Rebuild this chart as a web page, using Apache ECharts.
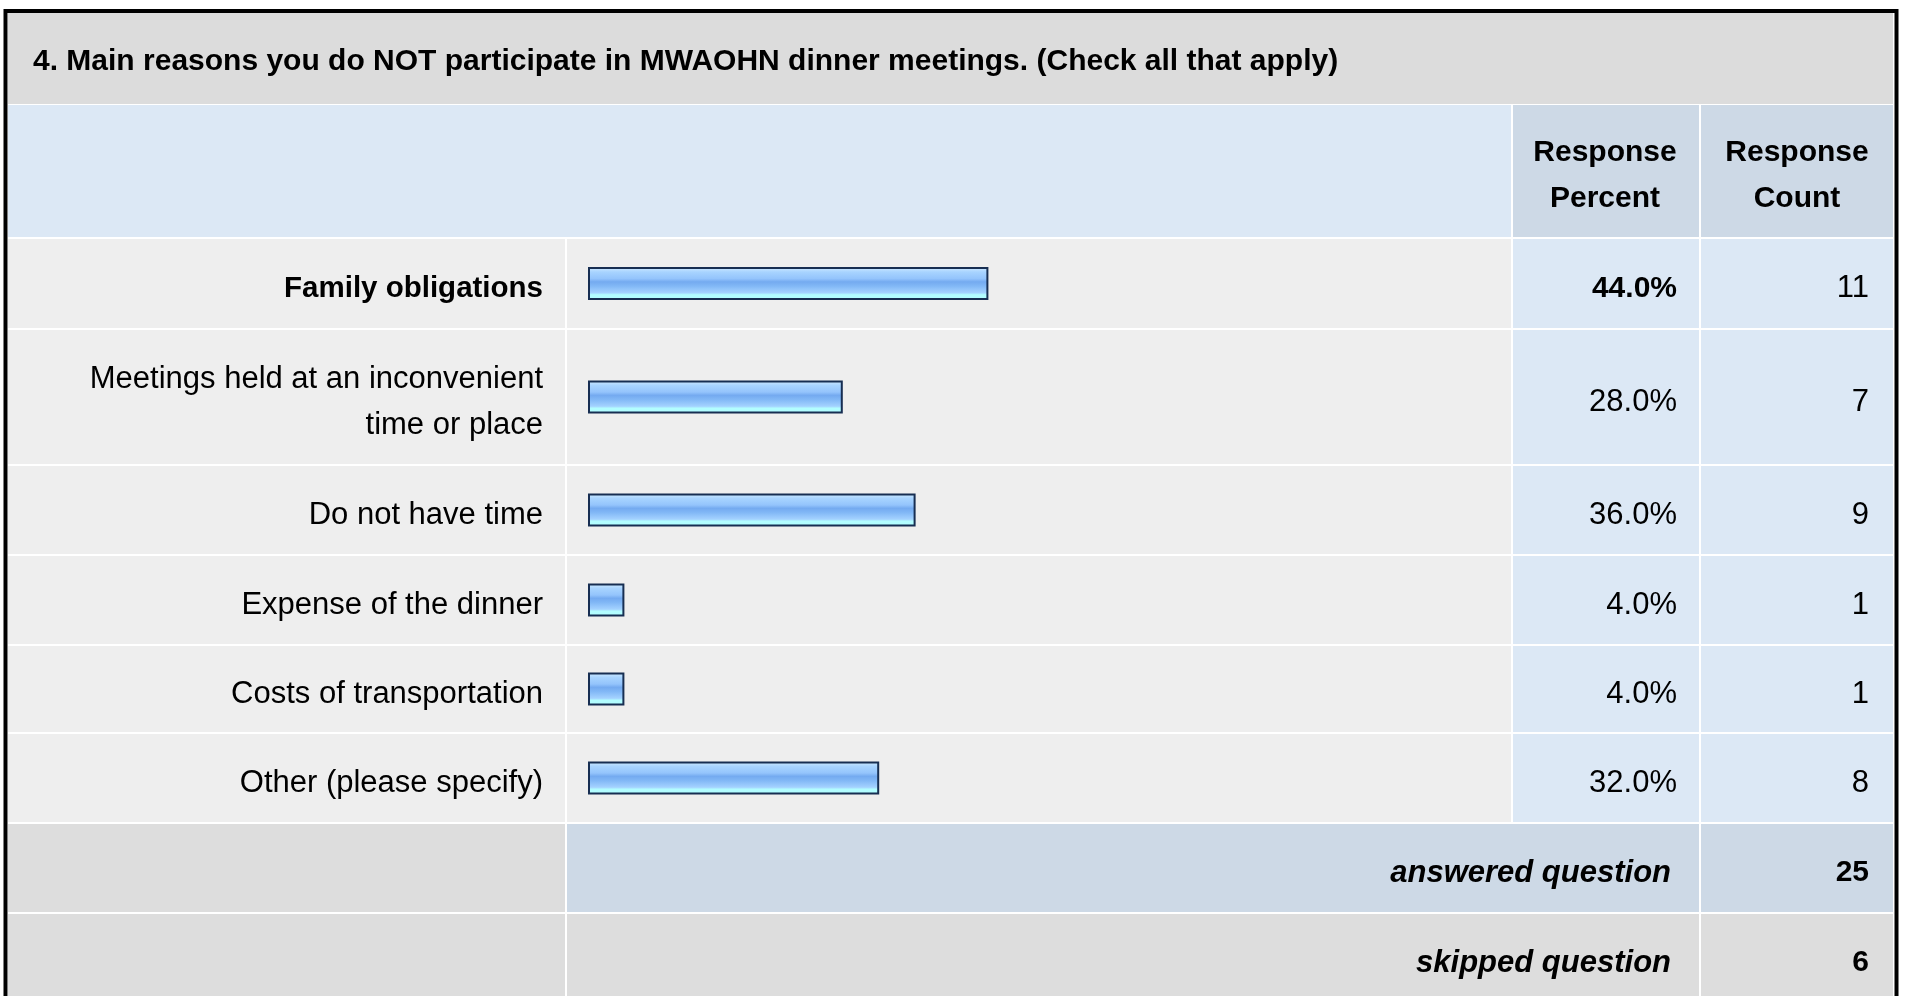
<!DOCTYPE html>
<html>
<head>
<meta charset="utf-8">
<script src="https://cdn.jsdelivr.net/npm/echarts@6/dist/echarts.min.js"></script>
<style>
  html, body { margin: 0; padding: 0; background: #fff; }
  #chart { width: 1907px; height: 996px; }
</style>
</head>
<body>
<div id="chart"></div>
<script>
// 题目与数据
const title = '4. Main reasons you do NOT participate in MWAOHN dinner meetings. (Check all that apply)';
const categories = [
  'Family obligations',
  'Meetings held at an inconvenient\ntime or place',
  'Do not have time',
  'Expense of the dinner',
  'Costs of transportation',
  'Other (please specify)'
];
const percents = [44.0, 28.0, 36.0, 4.0, 4.0, 32.0];
const counts = [11, 7, 9, 1, 1, 8];
const answered = 25;
const skipped = 6;

// 表格布局 (像素)
const rowEdges = [238, 329, 465, 555, 645, 733, 823, 913, 1003];
const colEdges = [7, 566, 1512, 1700, 1894];
const FONT = '"Liberation Sans", Arial, sans-serif';
const FS_BOLD = 30;
const FS_NORM = 31;
const topIdx = percents.indexOf(Math.max(...percents));

const myChart = echarts.init(document.getElementById('chart'));

const graphics = [];
function cell(x1, x2, y1, y2, color) {
  graphics.push({
    type: 'rect', z: -10, silent: true,
    shape: { x: x1, y: y1, width: x2 - x1, height: y2 - y1 },
    style: { fill: color }
  });
}
function text(str, x, y, align, weight, italic) {
  const fs = weight === 'bold' && !italic ? FS_BOLD : FS_NORM;
  graphics.push({
    type: 'text', z: 10, silent: true, x: x, y: y,
    style: {
      text: str, fill: '#000', align: align, verticalAlign: 'middle',
      font: (italic ? 'italic ' : '') + (weight || 'normal') + ' ' + fs + 'px ' + FONT,
      lineHeight: 46
    }
  });
}

// 标题栏
cell(8, 1893, 13, 104, '#dcdcdc');
text(title, 33, 62, 'left', 'bold');
// 表头
cell(8, 1511, 105, 237, '#dce8f5');
cell(1513, 1699, 105, 237, '#cdd9e6');
cell(1701, 1893, 105, 237, '#cdd9e6');
text('Response\nPercent', 1605, 176, 'center', 'bold');
text('Response\nCount', 1797, 176, 'center', 'bold');

// 数据行
const grids = [], xAxes = [], yAxes = [], series = [];
categories.forEach((name, i) => {
  const y1 = rowEdges[i] + 1, y2 = rowEdges[i + 1] - 1;
  cell(8, colEdges[1] - 1, y1, y2, '#eeeeee');
  cell(colEdges[1] + 1, colEdges[2] - 1, y1, y2, '#eeeeee');
  cell(colEdges[2] + 1, colEdges[3] - 1, y1, y2, '#dce8f5');
  cell(colEdges[3] + 1, 1893, y1, y2, '#dce8f5');
  const cy = (rowEdges[i] + rowEdges[i + 1]) / 2 + 5;
  const bold = i === topIdx ? 'bold' : 'normal';
  text(percents[i].toFixed(1) + '%', 1677, cy, 'right', bold);
  text(String(counts[i]), 1869, cy, 'right', 'normal');

  grids.push({ left: 588, width: 910, top: rowEdges[i], height: rowEdges[i + 1] - rowEdges[i] });
  xAxes.push({ type: 'value', gridIndex: i, min: 0, max: 100, show: false });
  yAxes.push({
    type: 'category', gridIndex: i, data: [name], z: 10,
    axisLine: { show: false }, axisTick: { show: false },
    axisLabel: {
      margin: 45, align: 'right',
      formatter: v => v.split('\n').map(s => '{t|' + s + '}').join('\n'),
      rich: {
        t: {
          color: '#000', fontFamily: FONT,
          fontSize: bold === 'bold' ? 29.5 : FS_NORM,
          fontWeight: bold, lineHeight: 46, padding: [10, 0, 0, 0]
        }
      }
    }
  });
  series.push({
    type: 'bar', xAxisIndex: i, yAxisIndex: i, data: [percents[i]],
    barWidth: 33, silent: true,
    itemStyle: {
      borderColor: '#172e52', borderWidth: 2,
      color: new echarts.graphic.LinearGradient(0, 0, 0, 1, [
        { offset: 0, color: '#d2ebff' },
        { offset: 0.15, color: '#a8d4ff' },
        { offset: 0.35, color: '#94c4fc' },
        { offset: 0.45, color: '#74aaf0' },
        { offset: 0.58, color: '#82b8f6' },
        { offset: 0.78, color: '#a4d2ff' },
        { offset: 0.84, color: '#b2fdff' },
        { offset: 1, color: '#b2fdff' }
      ])
    }
  });
});

// 汇总行
const ya = rowEdges[6], yb = rowEdges[7], yc = rowEdges[8];
cell(8, colEdges[1] - 1, ya + 1, yb - 1, '#dddddd');
cell(colEdges[1] + 1, colEdges[3] - 1, ya + 1, yb - 1, '#cdd9e6');
cell(colEdges[3] + 1, 1893, ya + 1, yb - 1, '#cdd9e6');
text('answered question', 1671, (ya + yb) / 2 + 5, 'right', 'bold', true);
text(String(answered), 1869, (ya + yb) / 2 + 5, 'right', 'bold');
cell(8, colEdges[1] - 1, yb + 1, yc, '#dddddd');
cell(colEdges[1] + 1, colEdges[3] - 1, yb + 1, yc, '#dddddd');
cell(colEdges[3] + 1, 1893, yb + 1, yc, '#dddddd');
text('skipped question', 1671, yb + 50, 'right', 'bold', true);
text(String(skipped), 1869, yb + 50, 'right', 'bold');

// 外框
graphics.push({
  type: 'rect', z: 20, silent: true,
  shape: { x: 5.5, y: 11, width: 1891, height: 1000 },
  style: { fill: null, stroke: '#000', lineWidth: 4 }
});

myChart.setOption({
  animation: false,
  backgroundColor: '#ffffff',
  grid: grids,
  xAxis: xAxes,
  yAxis: yAxes,
  series: series,
  graphic: graphics
});
</script>
</body>
</html>
